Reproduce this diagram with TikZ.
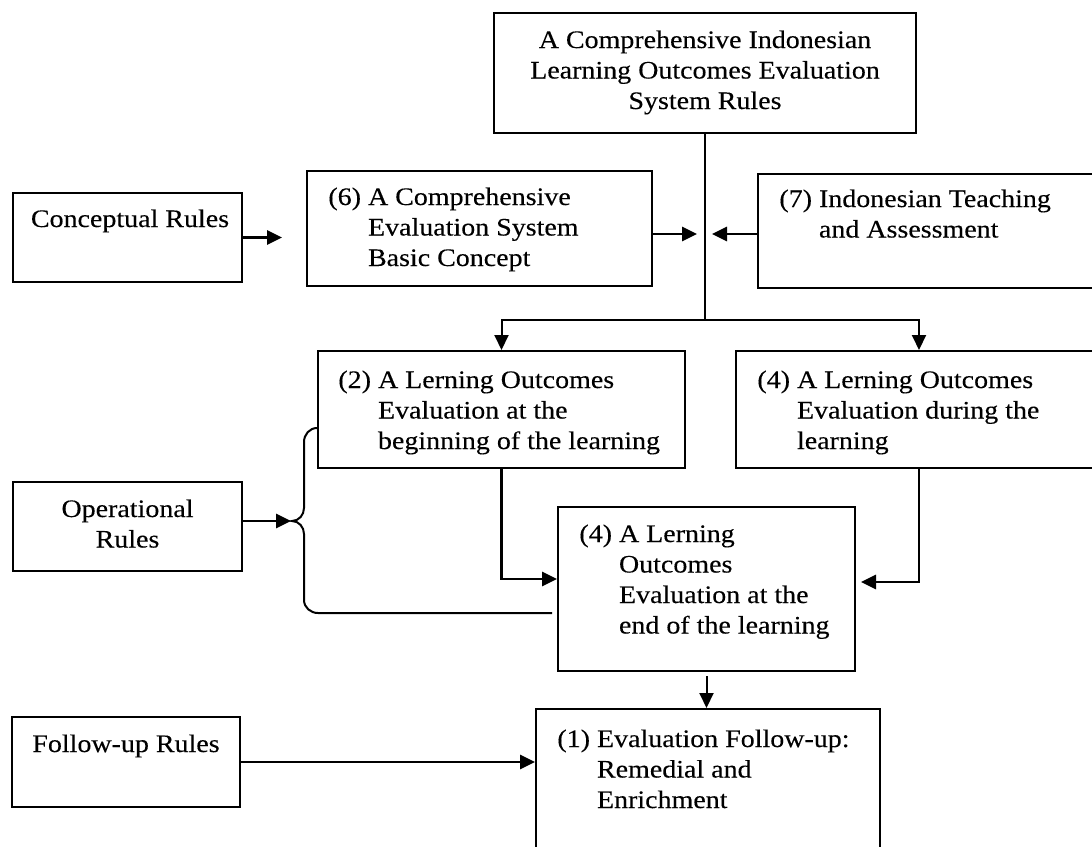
\documentclass[tikz,border=0pt]{standalone}
\usepackage{fontspec}
\setmainfont{Liberation Serif}[FakeStretch=1.11, FakeBold=0.2]
\usetikzlibrary{arrows.meta, positioning, calc, fit}

\begin{document}
\begin{tikzpicture}[
  x=0.5pt, y=-0.5pt,
  box/.style={rectangle, draw, line width=1pt, inner sep=0pt},
  txt/.style={inner sep=0pt, anchor=base west, font=\fontsize{12.6pt}{15.25pt}\selectfont},
  ctxt/.style={txt, anchor=base},
  arrow/.style={-{Triangle[length=7.5pt, width=7pt]}, line width=1pt},
  harrow/.style={arrow, line width=1.4pt},
  link/.style={line width=1pt}
]
  \useasboundingbox (0,0) rectangle (1092,846);

  \node[box, fit={(494,13) (916,133)}] (sys) {};
  \node[box, fit={(13,193) (242,282)}] (concept) {};
  \node[box, fit={(307,171) (652,286)}] (basic) {};
  \node[box, fit={(758,174) (1110,288)}] (teach) {};
  \node[box, fit={(318,351) (685,468)}] (begin) {};
  \node[box, fit={(736,351) (1102,468)}] (during) {};
  \node[box, fit={(13,482) (242,571)}] (oper) {};
  \node[box, fit={(558,507) (855,671)}] (endl) {};
  \node[box, fit={(12,717) (240,807)}] (follow) {};
  \node[box, fit={(536,709) (880,870)}] (enrich) {};

  \node[ctxt] (sys-t) at (705,48) {\begin{tabular}[t]{@{}c@{}}A Comprehensive Indonesian\\Learning Outcomes Evaluation\\System Rules\end{tabular}};
  \node[ctxt] (concept-t) at (130,227) {Conceptual Rules};
  \node[txt] (basic-t) at (328,205) {\begin{tabular}[t]{@{}l@{\ }l@{}}(6) & A Comprehensive\\ & Evaluation System\\ & Basic Concept\end{tabular}};
  \node[txt] (teach-t) at (779,207) {\begin{tabular}[t]{@{}l@{\ }l@{}}(7) & Indonesian Teaching\\ & and Assessment\end{tabular}};
  \node[txt] (begin-t) at (338,388) {\begin{tabular}[t]{@{}l@{\ }l@{}}(2) & A Lerning Outcomes\\ & Evaluation at the\\ & beginning of the learning\end{tabular}};
  \node[txt] (during-t) at (757,388) {\begin{tabular}[t]{@{}l@{\ }l@{}}(4) & A Lerning Outcomes\\ & Evaluation during the\\ & learning\end{tabular}};
  \node[ctxt] (oper-t) at (127.5,517) {\begin{tabular}[t]{@{}c@{}}Operational\\Rules\end{tabular}};
  \node[txt] (endl-t) at (579,542) {\begin{tabular}[t]{@{}l@{\ }l@{}}(4) & A Lerning\\ & Outcomes\\ & Evaluation at the\\ & end of the learning\end{tabular}};
  \node[ctxt] (follow-t) at (126,752) {Follow-up Rules};
  \node[txt] (enrich-t) at (557,747) {\begin{tabular}[t]{@{}l@{\ }l@{}}(1) & Evaluation Follow-up:\\ & Remedial and\\ & Enrichment\end{tabular}};

  \coordinate (hub) at (705,234);
  \coordinate (split) at (705,320);
  \coordinate (cusp) at (292,521);
  \coordinate (bbot) at (318,613);

  \draw[link] (sys) -- (split);
  \draw[arrow] (split) -| (begin);
  \draw[arrow] (split) -| (during);
  \draw[harrow, shorten >=12pt] (concept.east) -- (concept.east -| basic.west);
  \draw[harrow] (basic.east |- hub) -- ([xshift=-4pt]hub);
  \draw[harrow] (teach.west |- hub) -- ([xshift=3.5pt]hub);

  \draw[harrow] (begin.south) |- ([yshift=5pt]endl.west);
  \draw[harrow, shorten >=2.5pt] (during.south) |- ([yshift=3.5pt]endl.east);

  \draw[link, shorten >=2.5pt] ([yshift=-9.25pt]begin.west) to[out=180, in=90] (304,442) -- (304,508)
    to[out=-90, in=0] (cusp) to[out=0, in=90] (304,534) -- (304,600)
    to[out=-90, in=180] (bbot) -- (bbot -| endl.west);
  \draw[harrow, shorten >=0.5pt] (oper.east |- cusp) -- (cusp);

  \draw[arrow] ([yshift=-2pt]endl.south) -- (endl.south |- enrich.north);
  \draw[harrow] (follow.east) -- (follow.east -| enrich.west);
\end{tikzpicture}
\end{document}
